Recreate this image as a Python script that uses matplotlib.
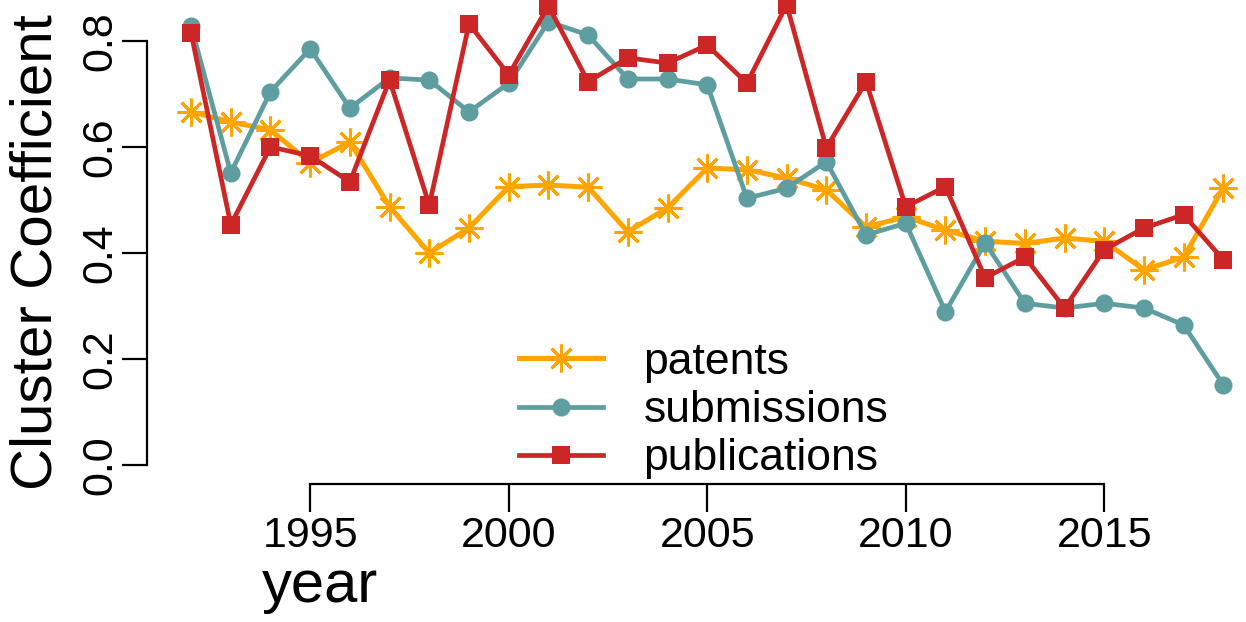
import matplotlib
matplotlib.use("Agg")
import matplotlib.pyplot as plt

plt.rcParams["font.family"] = ["Liberation Sans", "DejaVu Sans"]

years = list(range(1992, 2019))

patents = [0.666, 0.647, 0.632, 0.570, 0.609, 0.487, 0.400, 0.447, 0.525, 0.528,
           0.524, 0.440, 0.485, 0.560, 0.557, 0.541, 0.519, 0.449, 0.468, 0.443,
           0.422, 0.418, 0.428, 0.422, 0.368, 0.392, 0.523]
submissions = [0.828, 0.551, 0.704, 0.785, 0.673, 0.730, 0.726, 0.666, 0.720, 0.836,
               0.811, 0.728, 0.728, 0.717, 0.503, 0.522, 0.572, 0.434, 0.456, 0.289,
               0.419, 0.305, 0.296, 0.305, 0.296, 0.264, 0.151]
publications = [0.815, 0.453, 0.600, 0.583, 0.534, 0.726, 0.490, 0.832, 0.736, 0.866,
                0.723, 0.768, 0.758, 0.792, 0.720, 0.868, 0.598, 0.723, 0.487, 0.525,
                0.353, 0.392, 0.296, 0.406, 0.447, 0.472, 0.387]

xticks = [1995, 2000, 2005, 2010, 2015]
yticks = [0.0, 0.2, 0.4, 0.6, 0.8]

W, H = 1246, 622
fig = plt.figure(figsize=(W / 100, H / 100), dpi=100)
# plot region runs off the top/right edge, like the cropped original
ax = fig.add_axes([147 / W, (H - 484) / H, (W - 147) / W, 484 / H])
ax.set_xlim(1990.89, 2018.57)
ax.set_ylim(-0.0358, 0.877)

ax.plot(years, patents, color="#FFA500", lw=3.6, marker=(8, 2, 0), ms=20,
        mew=2.2, label="patents", clip_on=False, zorder=3)
ax.plot(years, submissions, color="#5F9EA0", lw=3.4, marker="o", ms=13,
        mew=0, label="submissions", clip_on=False, zorder=4)
ax.plot(years, publications, color="#CD2626", lw=3.4, marker="s", ms=13.5,
        mew=0, label="publications", clip_on=False, zorder=5)

for s in ["top", "right"]:
    ax.spines[s].set_visible(False)
ax.spines["left"].set_bounds(0, 0.8)
ax.spines["bottom"].set_bounds(1995, 2015)
ax.spines["left"].set_linewidth(1.6)
ax.spines["bottom"].set_linewidth(1.6)

ax.set_xticks(xticks)
ax.set_xticklabels([str(x) for x in xticks])
ax.set_yticks(yticks)
ax.set_yticklabels([f"{y:.1f}" for y in yticks], rotation=90, va="center")
ax.tick_params(axis="y", length=18, width=1.6, pad=1, labelsize=31)
ax.tick_params(axis="x", length=20, width=1.6, pad=3, labelsize=31)

fig.text(37 / W, 1 - 252 / H, "Cluster Coefficient", rotation=90,
         fontsize=42, ha="center", va="center")
fig.text(262 / W, 1 - 602 / H, "year", fontsize=43, ha="left", va="baseline")

ax.legend(loc="upper left", bbox_to_anchor=(519 / W, 1 - 342 / H),
          bbox_transform=fig.transFigure, frameon=False, fontsize=32,
          handlelength=1.9, handletextpad=0.9, labelspacing=0.16,
          borderpad=0, borderaxespad=0)

fig.savefig("out.png", dpi=100)
